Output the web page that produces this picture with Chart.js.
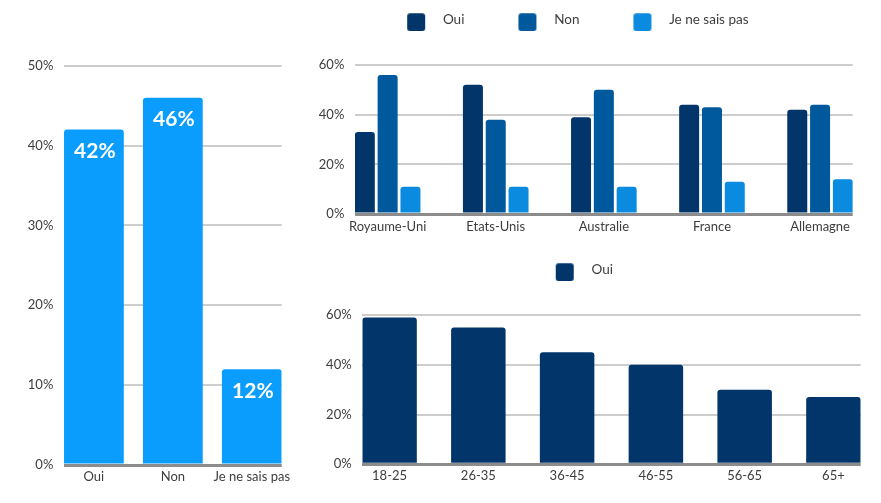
<!DOCTYPE html>
<html><head><meta charset="utf-8">
<script src="https://cdn.jsdelivr.net/npm/chart.js@4"></script>
<style>
html,body{margin:0;padding:0;background:#fff;width:881px;height:503px;overflow:hidden;}
.box{position:absolute;}
</style></head><body>
<div class="box" style="left:0;top:0;width:300px;height:503px"><canvas id="c1"></canvas></div>
<div class="box" style="left:262px;top:0;width:619px;height:250px"><canvas id="c2"></canvas></div>
<div class="box" style="left:300px;top:250px;width:581px;height:253px"><canvas id="c3"></canvas></div>
<script>
// ---- data ----
const totalCategories = ['Oui', 'Non', 'Je ne sais pas'];
const totalValues = [42, 46, 12];
const totalTicks = [0, 10, 20, 30, 40, 50];

const seriesNames = ['Oui', 'Non', 'Je ne sais pas'];
const countryCategories = ['Royaume-Uni', 'Etats-Unis', 'Australie', 'France', 'Allemagne'];
const countryOui = [33, 52, 39, 44, 42];
const countryNon = [56, 38, 50, 43, 44];
const countryNsp = [11, 11, 11, 13, 14];
const countryTicks = [0, 20, 40, 60];

const ageCategories = ['18-25', '26-35', '36-45', '46-55', '56-65', '65+'];
const ageOui = [59, 55, 45, 40, 30, 27];
const ageTicks = [0, 20, 40, 60];

// ---- styles ----
const FONT = 'Lato, "Open Sans", sans-serif';
const TEXT = '#3d3d3d';
const GRID = '#cdcdcd';
const BASE = '#8c8c8c';
const C_LIGHT = '#0B9DFD';
const C_OUI = '#02366B';
const C_NON = '#01599D';
const C_NSP = '#0A8BE0';

Chart.defaults.font.family = FONT;
Chart.defaults.color = TEXT;

function toPoints(vals) { return vals.map((v, i) => ({x: i, y: v})); }

function swatch(color, w) {
  const c = document.createElement('canvas');
  c.width = w; c.height = 23;
  const g = c.getContext('2d');
  g.fillStyle = color;
  const x = w - 29, y = 5, s = 18, r = 3;
  g.beginPath();
  g.moveTo(x + r, y); g.lineTo(x + s - r, y); g.quadraticCurveTo(x + s, y, x + s, y + r);
  g.lineTo(x + s, y + s - r); g.quadraticCurveTo(x + s, y + s, x + s - r, y + s);
  g.lineTo(x + r, y + s); g.quadraticCurveTo(x, y + s, x, y + s - r);
  g.lineTo(x, y + r); g.quadraticCurveTo(x, y, x + r, y);
  g.closePath(); g.fill();
  return c;
}

function legendOpts(w) {
  return {
    display: true, position: 'top', align: 'center',
    labels: {
      usePointStyle: true, pointStyleWidth: w, padding: 13, color: TEXT,
      font: {family: FONT, size: 13.5},
      generateLabels(chart) {
        const items = Chart.defaults.plugins.legend.labels.generateLabels(chart);
        items.forEach(it => { it.pointStyle = swatch(it.fillStyle, w); });
        return items;
      }
    }
  };
}

const legendHeight = h => ({
  id: 'legendHeight',
  beforeLayout(chart) {
    const lg = chart.legend;
    if (lg && !lg.__wrapped) {
      const f = lg.fit;
      lg.fit = function () { f.call(this); this.height = h; };
      lg.__wrapped = true;
    }
  }
});

function yScale(ticks, axisWidth) {
  return {
    min: ticks[0], max: ticks[ticks.length - 1],
    afterBuildTicks: s => { s.ticks = ticks.map(v => ({value: v})); },
    afterFit: s => { s.width = axisWidth; },
    border: {display: false},
    grid: {
      drawTicks: false,
      color: c => (c.tick && c.tick.value === 0) ? BASE : GRID,
      lineWidth: c => (c.tick && c.tick.value === 0) ? 3 : 2
    },
    ticks: {padding: 10.7, color: TEXT, font: {family: FONT, size: 13}, callback: v => v + '%'}
  };
}

function xScale(cats, half, axisHeight, pad) {
  return {
    type: 'linear', bounds: 'data', offset: false,
    min: -half, max: cats.length - 1 + half,
    afterBuildTicks: s => { s.ticks = cats.map((c, i) => ({value: i})); },
    afterFit: s => { s.height = axisHeight; },
    grid: {display: false, drawTicks: false, offset: false},
    border: {display: false},
    ticks: {
      autoSkip: false, maxRotation: 0, minRotation: 0,
      padding: pad, color: TEXT, font: {family: FONT, size: 13},
      callback: (v, i) => cats[i]
    }
  };
}

const barLabels = {
  id: 'barLabels',
  afterDatasetsDraw(chart) {
    const ctx = chart.ctx;
    const ds = chart.data.datasets[0];
    const meta = chart.getDatasetMeta(0);
    ctx.save();
    ctx.fillStyle = '#ffffff';
    ctx.font = 'bold 21px ' + FONT;
    ctx.textAlign = 'center';
    ctx.textBaseline = 'middle';
    meta.data.forEach((bar, i) => {
      ctx.fillText(ds.data[i].y + '%', bar.x + 1, bar.y + 22);
    });
    ctx.restore();
  }
};

const radius = {topLeft: 3, topRight: 3, bottomLeft: 0, bottomRight: 0};

// ---- chart 1 : total ----
new Chart(document.getElementById('c1'), {
  type: 'bar',
  data: {datasets: [{label: 'Total', data: toPoints(totalValues), backgroundColor: C_LIGHT,
    borderRadius: radius, borderSkipped: 'start', barPercentage: 0.757, categoryPercentage: 1}]},
  options: {
    responsive: true, maintainAspectRatio: false, animation: false, devicePixelRatio: 1,
    layout: {padding: {left: 0, right: 18.3, top: 65.7, bottom: 0}},
    plugins: {legend: {display: false}, tooltip: {enabled: false}},
    scales: {x: xScale(totalCategories, 0.3787, 38, 4), y: yScale(totalTicks, 64)}
  },
  plugins: [barLabels]
});

// ---- chart 2 : countries ----
new Chart(document.getElementById('c2'), {
  type: 'bar',
  data: {datasets: [
    {label: seriesNames[0], data: toPoints(countryOui), backgroundColor: C_OUI},
    {label: seriesNames[1], data: toPoints(countryNon), backgroundColor: C_NON},
    {label: seriesNames[2], data: toPoints(countryNsp), backgroundColor: C_NSP}
  ].map(d => Object.assign(d, {borderRadius: radius, borderSkipped: 'start', barPercentage: 0.877, categoryPercentage: 0.633}))},
  options: {
    responsive: true, maintainAspectRatio: false, animation: false, devicePixelRatio: 1,
    layout: {padding: {left: 0, right: 28.3, top: 0, bottom: 0}},
    plugins: {legend: legendOpts(70), tooltip: {enabled: false}},
    scales: {x: xScale(countryCategories, 0.3018, 36, 5), y: yScale(countryTicks, 93)}
  },
  plugins: [legendHeight(65)]
});

// ---- chart 3 : ages ----
new Chart(document.getElementById('c3'), {
  type: 'bar',
  data: {datasets: [{label: seriesNames[0], data: toPoints(ageOui), backgroundColor: C_OUI,
    borderRadius: radius, borderSkipped: 'start', barPercentage: 0.614, categoryPercentage: 1}]},
  options: {
    responsive: true, maintainAspectRatio: false, animation: false, devicePixelRatio: 1,
    layout: {padding: {left: 0, right: 20.3, top: 0, bottom: 0}},
    plugins: {legend: legendOpts(37), tooltip: {enabled: false}},
    scales: {x: xScale(ageCategories, 0.3072, 38.7, 4), y: yScale(ageTicks, 62.3)}
  },
  plugins: [legendHeight(65)]
});
</script>
</body></html>
